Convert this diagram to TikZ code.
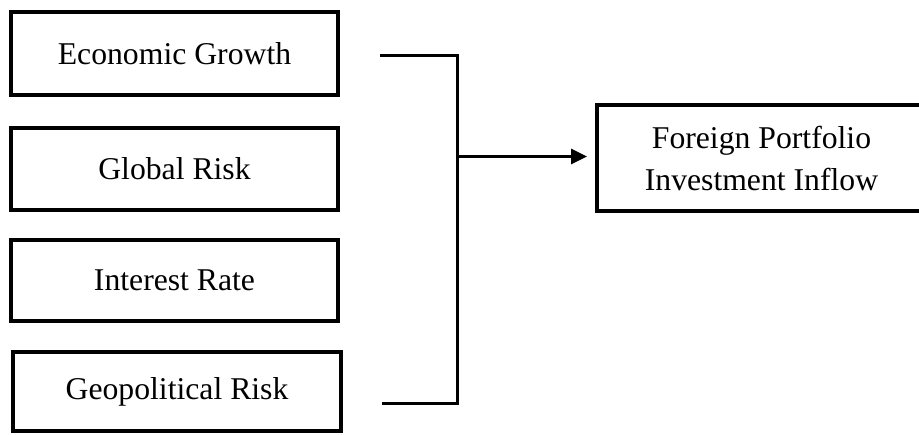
\documentclass[tikz,border=0pt]{standalone}
\usepackage{fontspec}
\setmainfont{Liberation Serif}
\usetikzlibrary{arrows.meta}
\begin{document}
\begin{tikzpicture}[x=1pt,y=-1pt,
  factor/.style={draw=black,line width=4pt,minimum width=327pt,inner sep=0pt,outer sep=0pt,
    font=\fontsize{31.7}{42}\selectfont,align=center},
  link/.style={draw=black,line width=3pt,line join=miter}]
\clip (0,0) rectangle (919,435);
\fill[white] (0,0) rectangle (919,435);
\node[factor,minimum height=83pt] (eg) at (174.5,53.5) {Economic Growth};
\node[factor,minimum height=82pt] (gr) at (174.5,169) {Global Risk};
\node[factor,minimum height=81pt] (ir) at (174.5,280.5) {Interest Rate};
\node[factor,minimum height=79pt,minimum width=328pt] (gp) at (177,391.5) {Geopolitical Risk};
\node[factor,minimum height=106.5pt,minimum width=329pt] (fpi) at (761.5,158) {Foreign Portfolio\\Investment Inflow};
\coordinate (t0) at (380,56);
\coordinate (t1) at (457,56);
\coordinate (b1) at (457,404);
\coordinate (b0) at (382,404);
\coordinate (j) at (457,156.5);
\draw[link] (t0) -- (t1) -- (b1) -- (b0);
\draw[link,-{Triangle[length=16pt,width=15pt]},shorten >=10pt] (j) -- (j -| fpi.west);
\end{tikzpicture}
\end{document}
